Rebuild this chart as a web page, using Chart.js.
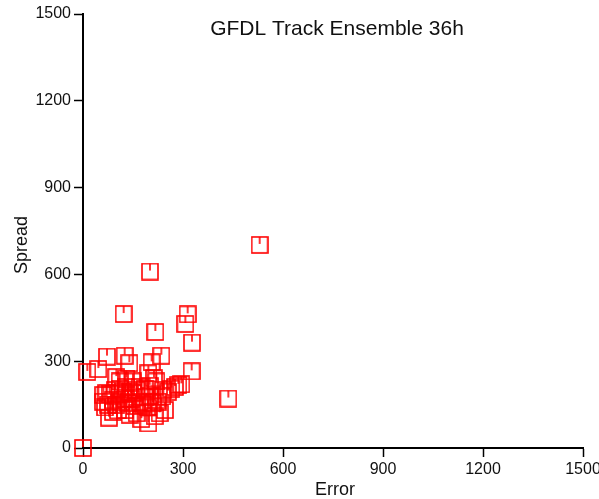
<!DOCTYPE html>
<html>
<head>
<meta charset="utf-8">
<title>GFDL Track Ensemble 36h</title>
<script src="https://cdn.jsdelivr.net/npm/chart.js@4.4.1/dist/chart.umd.min.js"></script>
<style>
  html, body { margin: 0; padding: 0; background: #fff; }
  #chart { display: block; }
</style>
</head>
<body>
<canvas id="chart" width="599" height="499"></canvas>
<script>
const chartTitle = 'GFDL Track Ensemble 36h';
const xLabel = 'Error';
const yLabel = 'Spread';
const axisTicks = [0, 300, 600, 900, 1200, 1500];

// error / spread pairs (same order in both arrays)
const errors = [
  0, 530, 201, 122, 314, 307, 217, 327, 436,
  72, 125, 235, 139, 206, 13, 46, 326,
  196, 213, 286, 276, 295,
  61, 70, 80, 95, 110, 120, 130, 140, 150, 160, 170, 185, 200, 220, 240, 238, 255, 265,
  60, 75, 90, 100, 115, 125, 135, 145, 155, 170, 180, 195, 210, 225, 246, 230,
  66, 78, 90, 105, 126, 140, 161, 175, 196, 215, 200, 185, 150, 130, 110, 100
];
const spreads = [
  0, 702, 610, 463, 462, 429, 401, 364, 171,
  316, 319, 319, 293, 296, 263, 273, 265,
  258, 241, 218, 211, 220,
  183, 190, 185, 200, 205, 195, 210, 195, 190, 200, 210, 205, 215, 230, 200, 178, 195, 205,
  160, 150, 165, 150, 160, 170, 155, 170, 145, 160, 150, 140, 155, 160, 131, 120,
  140, 105, 125, 130, 131, 115, 120, 100, 85, 110, 180, 175, 230, 240, 230, 245
];

const fontFamily = '"Liberation Sans", Arial, sans-serif';

const makeMarker = () => {
  const c = document.createElement('canvas');
  c.width = 18;
  c.height = 18;
  const g = c.getContext('2d');
  g.strokeStyle = '#ff0000';
  g.lineWidth = 1.6;
  g.strokeRect(1, 1, 16, 16);
  g.beginPath();
  g.moveTo(9, 1);
  g.lineTo(9, 8);
  g.stroke();
  return c;
};

// title sits inside the plot, axis titles placed like the original
const textLayer = {
  id: 'textLayer',
  afterDraw: (chart) => {
    const { ctx, chartArea } = chart;
    const midX = (chartArea.left + chartArea.right) / 2;
    ctx.save();
    ctx.fillStyle = '#111';
    ctx.textAlign = 'center';
    ctx.textBaseline = 'middle';
    ctx.font = `21px ${fontFamily}`;
    ctx.fillText(chartTitle, midX + 4, chartArea.top + 15);
    ctx.font = `18px ${fontFamily}`;
    ctx.fillText(xLabel, midX + 2, chart.height - 9);
    ctx.translate(22, (chartArea.top + chartArea.bottom) / 2 + 14);
    ctx.rotate(-Math.PI / 2);
    ctx.fillText(yLabel, 0, 0);
    ctx.restore();
  }
};

const fixBox = (size, horizontal) => (scale) => {
  if (horizontal) scale.height = size; else scale.width = size;
  scale.paddingLeft = 0;
  scale.paddingRight = 0;
  scale.paddingTop = 0;
  scale.paddingBottom = 0;
};

const axisOptions = (horizontal) => ({
  type: 'linear',
  min: 0,
  max: 1500,
  afterBuildTicks: (scale) => {
    scale.ticks = axisTicks.map((v) => ({ value: v }));
  },
  afterFit: fixBox(horizontal ? 51 : 83, horizontal),
  grid: {
    drawOnChartArea: false,
    drawTicks: true,
    tickLength: 9,
    tickWidth: 1.5,
    color: '#000'
  },
  border: { display: true, color: '#000', width: 2 },
  ticks: {
    color: '#111',
    font: { family: fontFamily, size: 16 },
    padding: 3,
    maxRotation: 0,
    autoSkip: false,
    callback: (value) => String(value)
  }
});

new Chart(document.getElementById('chart'), {
  type: 'scatter',
  data: {
    datasets: [{
      label: 'Ensemble',
      data: errors.map((e, i) => ({ x: e, y: spreads[i] })),
      pointStyle: makeMarker(),
      pointRadius: 9,
      pointHoverRadius: 9,
      clip: false
    }]
  },
  options: {
    responsive: false,
    animation: false,
    layout: { padding: { left: 0, right: 16, top: 14, bottom: 0 } },
    plugins: {
      legend: { display: false },
      tooltip: { enabled: false }
    },
    scales: {
      x: axisOptions(true),
      y: axisOptions(false)
    }
  },
  plugins: [textLayer]
});
</script>
</body>
</html>
